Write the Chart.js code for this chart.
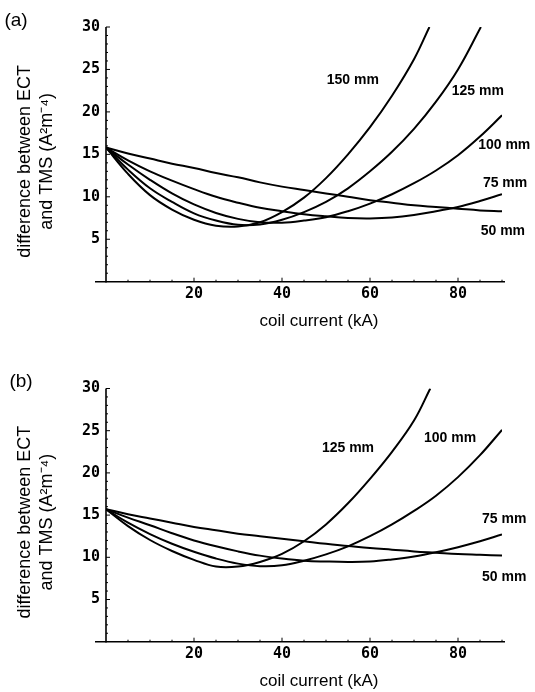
<!DOCTYPE html>
<html>
<head>
<meta charset="utf-8">
<script src="https://cdn.jsdelivr.net/npm/chart.js@4.4.1/dist/chart.umd.min.js"></script>
<style>
  html, body { margin: 0; padding: 0; background: #fff; }
  canvas { display: block; }
</style>
</head>
<body>
<canvas id="chartA" width="535" height="346"></canvas>
<canvas id="chartB" width="535" height="346"></canvas>
<script>
// coil current (kA) shared by the curves that stay inside the frame
const currentKA = [0, 5, 10, 15, 20, 25, 30, 35, 40, 45, 50, 55, 60, 65, 70, 75, 80, 85, 90];

// panel (a)
const a50mm  = [15.8, 15.1, 14.5, 13.9, 13.4, 12.8, 12.3, 11.7, 11.2, 10.8, 10.4, 10.0, 9.6, 9.3, 9.0, 8.8, 8.6, 8.4, 8.3];
const a75mm  = [15.8, 14.3, 13.0, 11.9, 10.9, 10.0, 9.3, 8.7, 8.3, 7.95, 7.7, 7.5, 7.45, 7.55, 7.85, 8.3, 8.8, 9.5, 10.3];
const a100mm = [15.8, 13.8, 12.0, 10.4, 9.1, 8.1, 7.4, 7.0, 6.95, 7.2, 7.6, 8.3, 9.2, 10.3, 11.6, 13.1, 14.9, 17.1, 19.6];
const a125mmCurrent = [0, 5, 10, 15, 20, 25, 30, 35, 40, 45, 50, 55, 60, 65, 70, 75, 80, 85.2];
const a125mm = [15.8, 13.2, 11.0, 9.4, 8.05, 7.2, 6.7, 6.75, 7.3, 8.2, 9.4, 11.0, 13.0, 15.3, 18.0, 21.2, 25.0, 30];
const a150mmCurrent = [0, 5, 10, 15, 20, 25, 30, 35, 40, 45, 50, 55, 60, 65, 70, 73.5];
const a150mm = [15.8, 12.7, 10.2, 8.5, 7.3, 6.6, 6.5, 7.0, 8.2, 9.9, 12.2, 15.0, 18.2, 21.9, 26.2, 30];

// panel (b)
const b50mm  = [15.7, 15.1, 14.6, 14.1, 13.6, 13.2, 12.8, 12.5, 12.2, 11.9, 11.6, 11.35, 11.1, 10.9, 10.7, 10.55, 10.4, 10.3, 10.2];
const b75mm  = [15.7, 14.7, 13.8, 12.85, 12.0, 11.3, 10.7, 10.2, 9.85, 9.6, 9.5, 9.45, 9.5, 9.75, 10.1, 10.6, 11.2, 11.9, 12.7];
const b100mm = [15.7, 14.1, 12.75, 11.6, 10.65, 9.85, 9.25, 8.95, 9.05, 9.6, 10.35, 11.3, 12.5, 13.9, 15.5, 17.3, 19.5, 22.1, 25.1];
const b125mmCurrent = [0, 5, 10, 15, 20, 25, 30, 35, 40, 45, 50, 55, 60, 65, 70, 73.7];
const b125mm = [15.7, 13.7, 12.05, 10.75, 9.7, 8.9, 8.9, 9.45, 10.4, 11.9, 13.9, 16.4, 19.3, 22.5, 26.2, 30];

const xTickLabels = [20, 40, 60, 80];
const yTickLabels = [5, 10, 15, 20, 25, 30];

const xTitle = 'coil current (kA)';
const yTitle = ['difference between ECT', 'and TMS (A\u00b2m\u207b\u2074)'];

// axes lines, inward ticks and all the figure text
const figureText = {
  id: 'figureText',
  afterDraw(chart, args, opts) {
    const ctx = chart.ctx;
    const xs = chart.scales.x;
    const ys = chart.scales.y;
    const area = chart.chartArea;
    const x0 = xs.getPixelForValue(0);
    const y0 = ys.getPixelForValue(0);
    ctx.save();
    ctx.strokeStyle = '#000';
    ctx.fillStyle = '#000';

    ctx.lineWidth = 1.6;
    ctx.beginPath();
    ctx.moveTo(x0 - 11, y0);
    ctx.lineTo(xs.getPixelForValue(90) + 3, y0);
    ctx.moveTo(x0, ys.getPixelForValue(30));
    ctx.lineTo(x0, y0 + 1);
    ctx.stroke();

    ctx.lineWidth = 1;
    ctx.beginPath();
    for (let v = 1; v <= 30; v++) {
      const py = ys.getPixelForValue(v);
      ctx.moveTo(x0, py);
      ctx.lineTo(x0 + (v % 5 === 0 ? 4 : 2), py);
    }
    for (let v = 5; v <= 90; v += 5) {
      const px = xs.getPixelForValue(v);
      ctx.moveTo(px, y0);
      ctx.lineTo(px, y0 - (v % 20 === 0 ? 4 : 2));
    }
    ctx.stroke();

    // panel letter
    ctx.font = '19px "Liberation Sans", Arial, sans-serif';
    ctx.textAlign = 'center';
    ctx.textBaseline = 'middle';
    ctx.fillText(opts.letter, opts.letterAt[0], opts.letterAt[1]);

    // x axis title
    ctx.font = '17px "Liberation Sans", Arial, sans-serif';
    ctx.fillText(xTitle, 319, y0 + 40);

    // y axis title, two rotated lines
    ctx.save();
    ctx.translate(25, (area.top + area.bottom) / 2 + 7);
    ctx.rotate(-Math.PI / 2);
    ctx.font = '18px "Liberation Sans", Arial, sans-serif';
    ctx.fillText(yTitle[0], 0, 0);
    ctx.fillText(yTitle[1], 0, 21.7);
    ctx.restore();

    // curve labels
    ctx.font = 'bold 14px "Liberation Sans", Arial, sans-serif';
    opts.labels.forEach((l) => {
      ctx.fillText(l.text, xs.getPixelForValue(l.x), ys.getPixelForValue(l.y));
    });
    ctx.restore();
  }
};

function toPoints(xs, ys) {
  return xs.map((x, i) => ({ x: x, y: ys[i] }));
}

function makeDataset(name, xs, ys) {
  return {
    label: name,
    data: toPoints(xs, ys),
    borderColor: '#000',
    borderWidth: 2,
    pointRadius: 0,
    fill: false,
    tension: 0.4
  };
}

function makeChart(id, datasets, plotTop, plotBottom, textOpts) {
  const tickFont = { family: '"DejaVu Sans Mono", monospace', weight: 'bold', size: 15 };
  return new Chart(document.getElementById(id), {
    type: 'line',
    data: { datasets: datasets },
    options: {
      responsive: false,
      animation: false,
      devicePixelRatio: 1,
      layout: { padding: { top: plotTop, right: 33, left: 0, bottom: 0 } },
      plugins: {
        legend: { display: false },
        tooltip: { enabled: false },
        figureText: textOpts
      },
      scales: {
        x: {
          type: 'linear',
          min: 0,
          max: 90,
          afterFit: (scale) => { scale.height = 346 - plotBottom; },
          grid: { display: false, drawTicks: false },
          border: { display: false },
          ticks: {
            stepSize: 20,
            includeBounds: false,
            padding: 3,
            maxRotation: 0,
            color: '#000',
            font: tickFont,
            callback: (v) => (xTickLabels.includes(v) ? v : '')
          }
        },
        y: {
          min: 0,
          max: 30,
          afterFit: (scale) => { scale.width = 106; },
          grid: { display: false, drawTicks: false },
          border: { display: false },
          ticks: {
            stepSize: 5,
            padding: 6,
            color: '#000',
            font: tickFont,
            callback: (v) => (yTickLabels.includes(v) ? v : '')
          }
        }
      }
    },
    plugins: [figureText]
  });
}

makeChart('chartA', [
  makeDataset('50 mm', currentKA, a50mm),
  makeDataset('75 mm', currentKA, a75mm),
  makeDataset('100 mm', currentKA, a100mm),
  makeDataset('125 mm', a125mmCurrent, a125mm),
  makeDataset('150 mm', a150mmCurrent, a150mm)
], 27, 281.7, {
  letter: '(a)',
  letterAt: [16, 21],
  labels: [
    { text: '150 mm', x: 56.1, y: 23.7 },
    { text: '125 mm', x: 84.5, y: 22.4 },
    { text: '100 mm', x: 90.5, y: 16.1 },
    { text: '75 mm', x: 90.7, y: 11.6 },
    { text: '50 mm', x: 90.2, y: 6.0 }
  ]
});

makeChart('chartB', [
  makeDataset('50 mm', currentKA, b50mm),
  makeDataset('75 mm', currentKA, b75mm),
  makeDataset('100 mm', currentKA, b100mm),
  makeDataset('125 mm', b125mmCurrent, b125mm)
], 42.5, 295.7, {
  letter: '(b)',
  letterAt: [21, 36],
  labels: [
    { text: '125 mm', x: 55.0, y: 22.9 },
    { text: '100 mm', x: 78.2, y: 24.1 },
    { text: '75 mm', x: 90.5, y: 14.5 },
    { text: '50 mm', x: 90.5, y: 7.6 }
  ]
});
</script>
</body>
</html>
